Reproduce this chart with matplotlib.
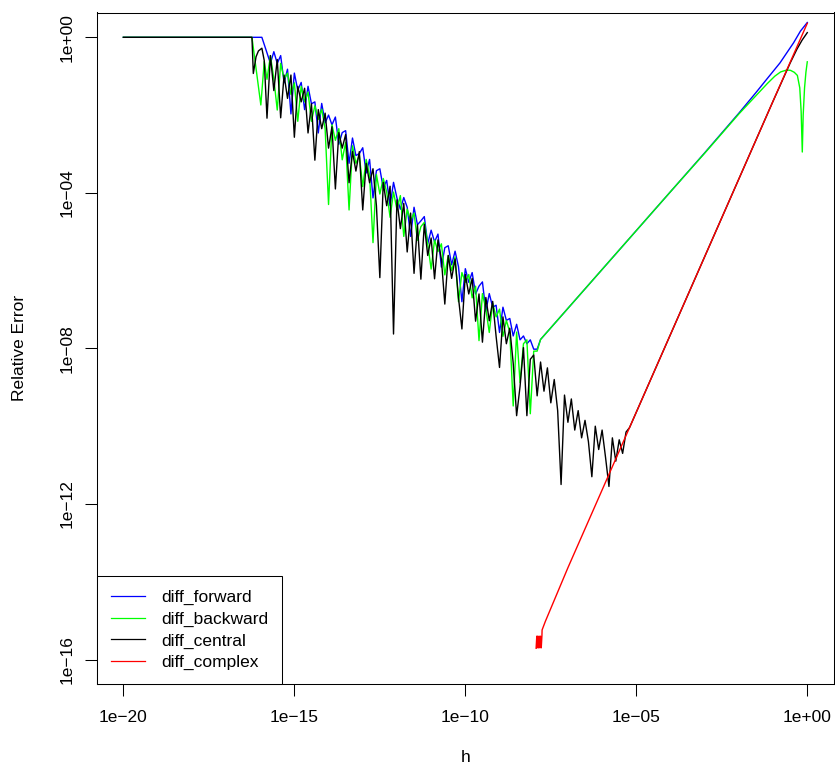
import numpy as np
import matplotlib
matplotlib.use("Agg")
import matplotlib.pyplot as plt
from matplotlib.ticker import NullLocator

# all values are log10 exponents
# shared step sizes for the noisy (round-off dominated) part
noisy_logh = [-15.8, -15.7, -15.6, -15.5, -15.4, -15.3, -15.2, -15.1, -15.0, -14.9,
              -14.8, -14.7, -14.6, -14.5, -14.4, -14.3, -14.2, -14.1, -14.0, -13.9,
              -13.8, -13.7, -13.6, -13.5, -13.4, -13.3, -13.2, -13.1, -13.0, -12.9,
              -12.8, -12.7, -12.6, -12.5, -12.4, -12.3, -12.2, -12.1, -12.0, -11.9,
              -11.8, -11.7, -11.6, -11.5, -11.4, -11.3, -11.2, -11.1, -11.0, -10.9,
              -10.8, -10.7, -10.6, -10.5, -10.4, -10.3, -10.2, -10.1, -10.0, -9.9,
              -9.8, -9.7, -9.6, -9.5, -9.4, -9.3, -9.2, -9.1, -9.0, -8.9,
              -8.8, -8.7, -8.6, -8.5, -8.4, -8.3, -8.2, -8.1, -8.0, -7.9]

# diff_forward
fwd_head_logh = [-20.0, -15.95]
fwd_head_err = [0.0, 0.0]
fwd_noisy_err = [-0.40, -0.67, -0.37, -0.67, -0.47, -1.17, -0.82, -1.97, -0.92, -1.36,
                 -1.16, -1.86, -1.26, -1.71, -1.66, -2.46, -1.70, -2.20, -2.00, -2.25,
                 -2.05, -2.75, -2.45, -2.40, -3.24, -2.59, -3.04, -2.99, -2.84, -3.49,
                 -3.14, -4.13, -3.43, -3.38, -3.88, -3.68, -4.33, -3.73, -4.13, -4.42,
                 -4.12, -4.37, -5.12, -4.37, -4.82, -4.72, -4.61, -5.31, -4.96, -5.26,
                 -5.06, -5.91, -5.41, -5.36, -5.85, -5.50, -5.90, -6.80, -5.95, -6.30,
                 -6.05, -6.60, -6.40, -6.29, -7.04, -6.59, -6.94, -6.89, -7.59, -6.94,
                 -7.28, -7.23, -7.68, -7.38, -7.78, -7.68, -7.88, -7.78, -8.02, -8.02]
fwd_tail_logh = [-7.8, -7.0, -6.0, -5.0, -4.0, -3.0, -2.0, -1.5, -1.17, -0.8,
                 -0.585, -0.4, -0.2, -0.1, 0.0]
fwd_tail_err = [-7.77, -6.97, -5.97, -4.97, -3.97, -2.97, -1.95, -1.42, -1.06, -0.66,
                -0.38, -0.14, 0.16, 0.27, 0.38]

# diff_backward
bwd_head_logh = [-20.0, -16.24, -15.98, -15.88]
bwd_head_err = [0.0, 0.0, -1.74, -0.62]
bwd_noisy_err = [-1.08, -0.47, -1.07, -1.87, -0.67, -1.07, -0.92, -1.47, -1.17, -2.16,
                 -1.26, -1.66, -1.41, -2.16, -1.76, -2.11, -1.85, -2.35, -4.30, -2.25,
                 -2.65, -2.35, -3.15, -2.70, -4.44, -2.79, -3.24, -3.04, -3.84, -3.14,
                 -3.54, -5.28, -3.53, -4.03, -3.63, -3.98, -4.63, -3.98, -4.43, -4.07,
                 -5.12, -4.42, -4.72, -4.52, -5.22, -4.87, -4.76, -5.31, -5.96, -5.21,
                 -5.51, -5.31, -6.11, -5.61, -6.00, -5.65, -6.80, -6.05, -6.30, -6.10,
                 -6.70, -6.40, -7.80, -6.59, -6.99, -7.59, -6.84, -7.19, -6.99, -7.69,
                 -7.28, -7.58, -9.48, -7.58, -8.88, -7.88, -7.78, -9.68, -8.07, -8.07]
bwd_tail_logh = [-7.8, -7.0, -6.0, -5.0, -4.0, -3.0, -2.0, -1.5, -1.17, -0.95,
                 -0.78, -0.6, -0.49, -0.38, -0.29, -0.22, -0.18, -0.146, -0.12, -0.08,
                 -0.04, 0.0]
bwd_tail_err = [-7.77, -6.97, -5.97, -4.97, -3.97, -2.98, -1.97, -1.5, -1.19, -1.0,
                -0.89, -0.84, -0.85, -0.9, -0.98, -1.3, -1.9, -2.95, -2.0, -1.3,
                -0.9, -0.63]

# diff_central
ctr_head_logh = [-20.0, -16.24, -16.2, -16.12, -16.05, -15.95, -15.88]
ctr_head_err = [0.0, 0.0, -0.93, -0.5, -0.35, -0.28, -0.6]
ctr_noisy_err = [-2.08, -0.47, -1.37, -0.57, -2.07, -0.97, -1.57, -0.97, -2.57, -1.26,
                 -1.66, -1.31, -2.46, -1.71, -3.16, -1.86, -2.35, -1.95, -2.85, -2.30,
                 -3.90, -2.45, -2.85, -2.50, -3.74, -2.94, -3.44, -2.94, -4.44, -3.24,
                 -3.74, -3.38, -4.33, -6.18, -3.73, -4.33, -3.83, -7.63, -4.18, -4.92,
                 -4.27, -5.52, -4.52, -6.07, -4.82, -6.22, -4.81, -5.61, -5.16, -6.21,
                 -5.21, -5.71, -6.86, -5.61, -6.20, -5.70, -6.70, -7.50, -6.10, -6.60,
                 -6.20, -7.30, -6.60, -7.84, -6.69, -7.29, -6.79, -7.69, -8.49, -7.19,
                 -7.88, -7.48, -8.38, -9.73, -8.98, -7.98, -9.73, -8.28, -8.17, -9.22]
ctr_tail_logh = [-7.8, -7.7, -7.6, -7.5, -7.4, -7.3, -7.2, -7.1, -7.0, -6.9,
                 -6.8, -6.7, -6.6, -6.5, -6.4, -6.3, -6.2, -6.1, -6.0, -5.9,
                 -5.8, -5.7, -5.6, -5.5, -5.4, -5.3, -5.2, -5.0, -4.0, -3.0,
                 -2.0, -1.0, -0.5, -0.3, -0.15, 0.0]
ctr_tail_err = [-8.35, -9.1, -8.5, -9.4, -8.8, -9.6, -11.5, -9.2, -9.9, -9.3,
                -10.1, -9.6, -10.3, -9.85, -10.4, -11.3, -10.0, -10.6, -10.1, -10.8,
                -11.55, -10.3, -10.9, -10.35, -10.7, -10.15, -10.04, -9.64, -7.64, -5.64,
                -3.64, -1.64, -0.66, -0.30, -0.07, 0.12]

# diff_complex
cpx_logh = [-7.93, -7.91, -7.9, -7.88, -7.86, -7.84, -7.82, -7.8, -7.78, -7.76,
            -7.755, -7.66, -7.0, -6.0, -5.0, -4.0, -3.0, -2.0, -1.0, 0.0]
cpx_err = [-15.71, -15.40, -15.70, -15.40, -15.70, -15.40, -15.70, -15.40, -15.70, -15.39,
           -15.24, -15.02, -13.64, -11.64, -9.64, -7.64, -5.64, -3.64, -1.64, 0.36]

x_tick_exp = [-20, -15, -10, -5, 0]
x_tick_labels = ["1e\u221220", "1e\u221215", "1e\u221210", "1e\u221205", "1e+00"]
y_tick_exp = [0, -4, -8, -12, -16]
y_tick_labels = ["1e+00", "1e\u221204", "1e\u221208", "1e\u221212", "1e\u221216"]


def pw(v):
    return 10.0 ** np.asarray(v, dtype=float)


plt.rcParams['font.family'] = ['Liberation Sans', 'DejaVu Sans']
fs = 12.5

fig = plt.figure(figsize=(8.35, 7.72), dpi=100)
ax = fig.add_axes([96.7 / 835, 1 - 684 / 772, (834.3 - 96.7) / 835, (684 - 12.5) / 772])

lw = 1.0
ax.plot(pw(fwd_head_logh + noisy_logh + fwd_tail_logh),
        pw(fwd_head_err + fwd_noisy_err + fwd_tail_err),
        color='#0000FF', lw=lw, label='diff_forward')
ax.plot(pw(bwd_head_logh + noisy_logh + bwd_tail_logh),
        pw(bwd_head_err + bwd_noisy_err + bwd_tail_err),
        color='#00FF00', lw=lw, label='diff_backward')
ax.plot(pw(ctr_head_logh + noisy_logh + ctr_tail_logh),
        pw(ctr_head_err + ctr_noisy_err + ctr_tail_err),
        color='black', lw=lw, label='diff_central')
ax.plot(pw(cpx_logh), pw(cpx_err), color='#FF0000', lw=lw, label='diff_complex')

ax.set_xscale('log')
ax.set_yscale('log')
ax.set_xlim(10 ** -20.78, 10 ** 0.79)
ax.set_ylim(10 ** -16.63, 10 ** 0.638)
ax.set_xticks(pw(x_tick_exp))
ax.set_xticklabels(x_tick_labels)
ax.set_yticks(pw(y_tick_exp))
ax.set_yticklabels(y_tick_labels, rotation=90, va='center')
ax.xaxis.set_minor_locator(NullLocator())
ax.yaxis.set_minor_locator(NullLocator())
ax.tick_params(axis='both', direction='out', length=8.3, width=0.75, labelsize=fs)
ax.tick_params(axis='x', pad=10.5)
ax.tick_params(axis='y', pad=7.5)
for sp in ax.spines.values():
    sp.set_linewidth(0.75)

fig.text((96.7 + 834.3) / 2 / 835, 1 - 757 / 772, 'h', ha='center', va='center', fontsize=fs)
fig.text(20 / 835, 1 - 348 / 772, 'Relative Error', ha='center', va='center',
         rotation=90, fontsize=fs)

leg = ax.legend(loc='lower left', bbox_to_anchor=(0, 0), borderaxespad=0,
                fancybox=False, edgecolor='black', framealpha=1, fontsize=fs,
                handlelength=2.0, handletextpad=0.9, borderpad=0.8, labelspacing=0.36)
leg.get_frame().set_linewidth(0.75)
for line in leg.get_lines():
    line.set_linewidth(0.9)

fig.savefig('out.png', dpi=100)
